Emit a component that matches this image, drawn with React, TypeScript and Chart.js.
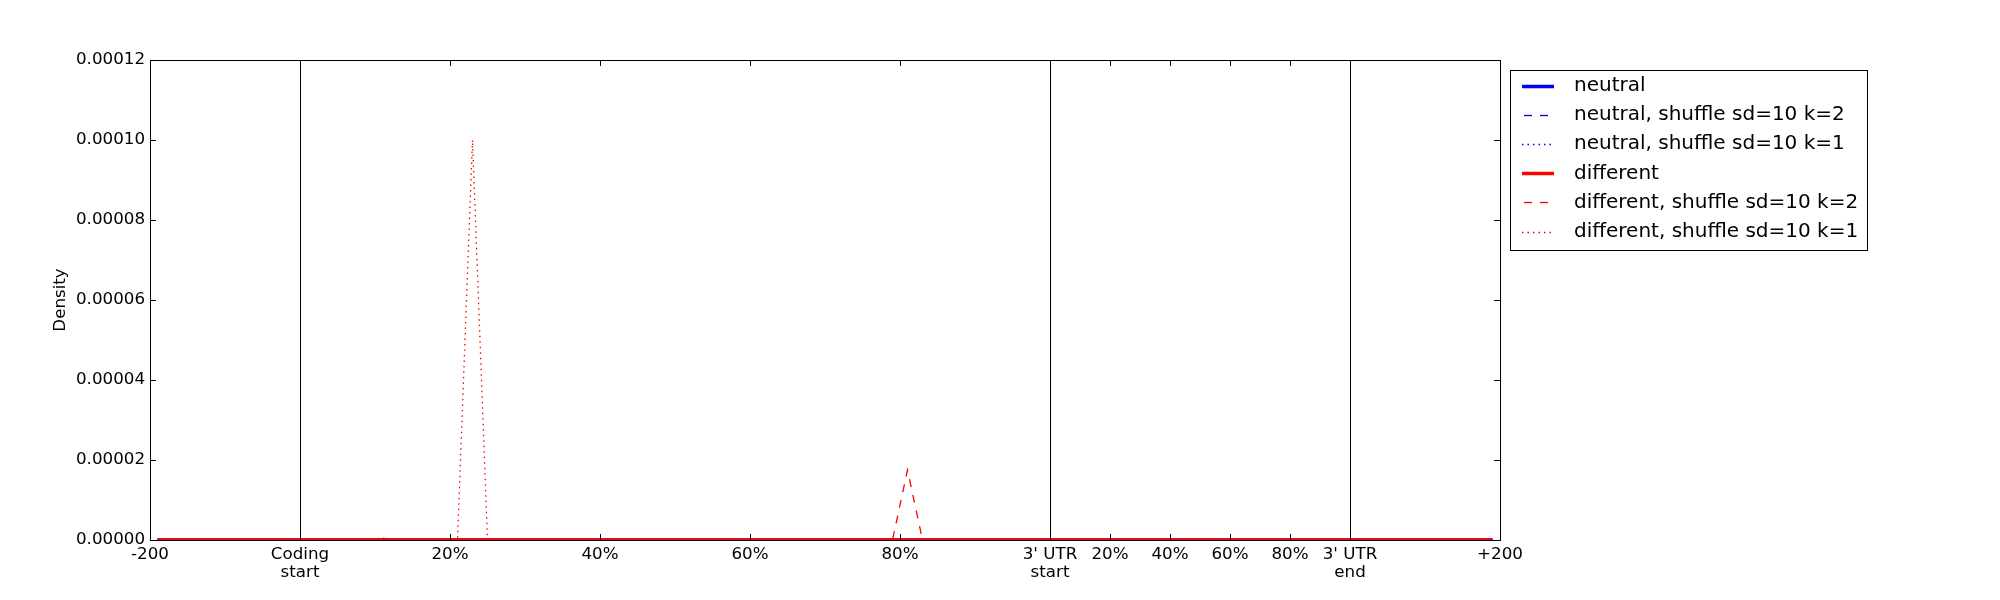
import React, { useEffect, useRef } from "react";
import { Chart, registerables } from "chart.js";

Chart.register(...registerables);

// ---- Data (one value per bin: 10 upstream, 50 coding, 20 3'UTR, 10 downstream) ----
const seriesLabels = [
  "neutral",
  "neutral, shuffle sd=10 k=2",
  "neutral, shuffle sd=10 k=1",
  "different",
  "different, shuffle sd=10 k=2",
  "different, shuffle sd=10 k=1",
];

const neutral = [
  0, 0, 0, 0, 0, 0, 0, 0, 0, 0,
  0, 0, 0, 0, 0, 0, 0, 0, 0, 0,
  0, 0, 0, 0, 0, 0, 0, 0, 0, 0,
  0, 0, 0, 0, 0, 0, 0, 0, 0, 0,
  0, 0, 0, 0, 0, 0, 0, 0, 0, 0,
  0, 0, 0, 0, 0, 0, 0, 0, 0, 0,
  0, 0, 0, 0, 0, 0, 0, 0, 0, 0,
  0, 0, 0, 0, 0, 0, 0, 0, 0, 0,
  0, 0, 0, 0, 0, 0, 0, 0, 0, 0,
];

const neutralK2 = [
  0, 0, 0, 0, 0, 0, 0, 0, 0, 0,
  0, 0, 0, 0, 0, 0, 0, 0, 0, 0,
  0, 0, 0, 0, 0, 0, 0, 0, 0, 0,
  0, 0, 0, 0, 0, 0, 0, 0, 0, 0,
  0, 0, 0, 0, 0, 0, 0, 0, 0, 0,
  0, 0, 0, 0, 0, 0, 0, 0, 0, 0,
  0, 0, 0, 0, 0, 0, 0, 0, 0, 0,
  0, 0, 0, 0, 0, 0, 0, 0, 0, 0,
  0, 0, 0, 0, 0, 0, 0, 0, 0, 0,
];

const neutralK1 = [
  0, 0, 0, 0, 0, 0, 0, 0, 0, 0,
  0, 0, 0, 0, 0, 0, 0, 0, 0, 0,
  0, 0, 0, 0, 0, 0, 0, 0, 0, 0,
  0, 0, 0, 0, 0, 0, 0, 0, 0, 0,
  0, 0, 0, 0, 0, 0, 0, 0, 0, 0,
  0, 0, 0, 0, 0, 0, 0, 0, 0, 0,
  0, 0, 0, 0, 0, 0, 0, 0, 0, 0,
  0, 0, 0, 0, 0, 0, 0, 0, 0, 0,
  0, 0, 0, 0, 0, 0, 0, 0, 0, 0,
];

const different = [
  0, 0, 0, 0, 0, 0, 0, 0, 0, 0,
  0, 0, 0, 0, 0, 0, 0, 0, 0, 0,
  0, 0, 0, 0, 0, 0, 0, 0, 0, 0,
  0, 0, 0, 0, 0, 0, 0, 0, 0, 0,
  0, 0, 0, 0, 0, 0, 0, 0, 0, 0,
  0, 0, 0, 0, 0, 0, 0, 0, 0, 0,
  0, 0, 0, 0, 0, 0, 0, 0, 0, 0,
  0, 0, 0, 0, 0, 0, 0, 0, 0, 0,
  0, 0, 0, 0, 0, 0, 0, 0, 0, 0,
];

const differentK2 = [
  0, 0, 0, 0, 0, 0, 0, 0, 0, 0,
  0, 0, 0, 0, 0, 0, 0, 0, 0, 0,
  0, 0, 0, 0, 0, 0, 0, 0, 0, 0,
  0, 0, 0, 0, 0, 0, 0, 0, 0, 0,
  0, 0, 0, 0, 0, 0, 0, 0, 0, 0,
  0.0000175, 0, 0, 0, 0, 0, 0, 0, 0, 0,
  0, 0, 0, 0, 0, 0, 0, 0, 0, 0,
  0, 0, 0, 0, 0, 0, 0, 0, 0, 0,
  0, 0, 0, 0, 0, 0, 0, 0, 0, 0,
];

const differentK1 = [
  0, 0, 0, 0, 0, 0, 0, 0, 0, 0,
  0, 0, 0, 0, 0, 0.0000005, 0, 0, 0, 0,
  0, 0.0001, 0, 0, 0, 0, 0, 0, 0, 0,
  0, 0, 0, 0, 0, 0, 0, 0, 0, 0,
  0, 0, 0, 0, 0, 0, 0, 0, 0, 0,
  0, 0, 0, 0, 0, 0, 0, 0, 0, 0,
  0, 0, 0, 0, 0, 0, 0, 0, 0, 0,
  0, 0, 0, 0, 0, 0, 0, 0, 0, 0,
  0, 0, 0, 0, 0, 0, 0, 0, 0, 0,
];

// x positions in bin units
const xTickPositions = [0, 10, 20, 30, 40, 50, 60, 64, 68, 72, 76, 80, 90];
const xTickLabels = [
  "-200",
  "Coding\nstart",
  "20%",
  "40%",
  "60%",
  "80%",
  "3' UTR\nstart",
  "20%",
  "40%",
  "60%",
  "80%",
  "3' UTR\nend",
  "+200",
];
const regionBoundaries = [10, 60, 80];
const yTickValues = [0, 0.00002, 0.00004, 0.00006, 0.00008, 0.0001, 0.00012];

const seriesValues = [neutral, neutralK2, neutralK1, different, differentK2, differentK1];
const seriesColors = ["#0000ff", "#0000ff", "#0000ff", "#ff0000", "#ff0000", "#ff0000"];
const seriesDash: number[][] = [[], [8, 8], [1.5, 4], [], [8, 8], [1.5, 4]];
const seriesWidth = [3.5, 1.3, 1.3, 3.5, 1.3, 1.3];

const FONT = "'DejaVu Sans', 'Liberation Sans', sans-serif";

const framePlugin = {
  id: "frameTicks",
  afterDatasetsDraw(chart: any) {
    const { ctx, chartArea: a, scales } = chart;
    const xs = scales.x;
    const ys = scales.y;
    ctx.save();
    ctx.strokeStyle = "#000";
    ctx.lineWidth = 1;
    ctx.setLineDash([]);
    const seg = (x1: number, y1: number, x2: number, y2: number) => {
      ctx.beginPath();
      ctx.moveTo(x1, y1);
      ctx.lineTo(x2, y2);
      ctx.stroke();
    };
    for (const b of regionBoundaries) {
      const px = Math.round(xs.getPixelForValue(b)) + 0.5;
      seg(px, a.top, px, a.bottom);
    }
    const tl = 6;
    for (const v of xTickPositions) {
      const px = Math.round(xs.getPixelForValue(v)) + 0.5;
      seg(px, a.bottom, px, a.bottom - tl);
      seg(px, a.top, px, a.top + tl);
    }
    for (const v of yTickValues) {
      const py = Math.round(ys.getPixelForValue(v)) + 0.5;
      seg(a.left, py, a.left + tl, py);
      seg(a.right, py, a.right - tl, py);
    }
    ctx.strokeRect(a.left + 0.5, a.top + 0.5, a.right - a.left, a.bottom - a.top);
    // y-axis title
    ctx.fillStyle = "#000";
    ctx.font = `16.7px ${FONT}`;
    ctx.textAlign = "center";
    ctx.textBaseline = "middle";
    ctx.translate(61, (a.top + a.bottom) / 2);
    ctx.rotate(-Math.PI / 2);
    ctx.fillText("Density", 0, 0);
    ctx.restore();
  },
};

const legendPlugin = {
  id: "customLegend",
  afterDraw(chart: any) {
    const { ctx } = chart;
    const bx = 1510;
    const by = 70;
    const bw = 357;
    const bh = 180;
    ctx.save();
    ctx.fillStyle = "#fff";
    ctx.fillRect(bx, by, bw, bh);
    ctx.strokeStyle = "#000";
    ctx.lineWidth = 1;
    ctx.strokeRect(bx + 0.5, by + 0.5, bw, bh);
    ctx.font = `20px ${FONT}`;
    ctx.textAlign = "left";
    ctx.textBaseline = "middle";
    chart.data.datasets.forEach((ds: any, i: number) => {
      const cy = 86 + i * 29.1;
      ctx.strokeStyle = ds.borderColor;
      ctx.lineWidth = ds.borderWidth;
      const dash = ds.borderDash || [];
      ctx.setLineDash(dash);
      ctx.lineDashOffset = dash.length && dash[0] > 4 ? -2 : 0;
      ctx.beginPath();
      ctx.moveTo(1522, Math.round(cy) + 0.5);
      ctx.lineTo(1554, Math.round(cy) + 0.5);
      ctx.stroke();
      ctx.setLineDash([]);
      ctx.lineDashOffset = 0;
      ctx.fillStyle = "#000";
      ctx.fillText(ds.label, 1574, cy);
    });
    ctx.restore();
  },
};

export default function App() {
  const ref = useRef<HTMLCanvasElement | null>(null);

  useEffect(() => {
    if (!ref.current) return;
    const datasets = seriesLabels.map((label, i) => ({
      label,
      data: seriesValues[i].map((y, k) => ({ x: k + 0.5, y })),
      borderColor: seriesColors[i],
      backgroundColor: seriesColors[i],
      borderWidth: seriesWidth[i],
      borderDash: seriesDash[i],
      pointRadius: 0,
      tension: 0,
      fill: false,
      clip: 0,
      order: seriesLabels.length - i,
    }));

    const chart = new Chart(ref.current, {
      type: "line",
      data: { datasets },
      plugins: [framePlugin, legendPlugin],
      options: {
        animation: false,
        responsive: false,
        devicePixelRatio: 1,
        events: [],
        layout: { padding: { top: 60, right: 500, left: 0, bottom: 0 } },
        plugins: { legend: { display: false }, tooltip: { enabled: false } },
        scales: {
          x: {
            type: "linear",
            min: 0,
            max: 90,
            grid: { display: false, drawTicks: false },
            border: { display: false },
            afterFit: (s: any) => {
              s.height = 60;
            },
            afterBuildTicks: (s: any) => {
              s.ticks = xTickPositions.map((v) => ({ value: v }));
            },
            ticks: {
              autoSkip: false,
              maxRotation: 0,
              minRotation: 0,
              padding: 5,
              color: "#000",
              font: { family: FONT, size: 16.7, lineHeight: 1.1 },
              callback: (_v: any, idx: number) => xTickLabels[idx].split("\n"),
            },
          },
          y: {
            type: "linear",
            min: 0,
            max: 0.00012,
            grid: { display: false, drawTicks: false },
            border: { display: false },
            afterFit: (s: any) => {
              s.width = 150;
            },
            afterBuildTicks: (s: any) => {
              s.ticks = yTickValues.map((v) => ({ value: v }));
            },
            ticks: {
              padding: 5,
              color: "#000",
              font: { family: FONT, size: 16.7 },
              callback: (v: any) => Number(v).toFixed(5),
            },
          },
        },
      },
    } as any);
    return () => chart.destroy();
  }, []);

  return (
    <div style={{ position: "fixed", left: 0, top: 0, width: 2000, height: 600, background: "#fff" }}>
      <canvas ref={ref} width={2000} height={600} style={{ width: 2000, height: 600, display: "block" }} />
    </div>
  );
}
